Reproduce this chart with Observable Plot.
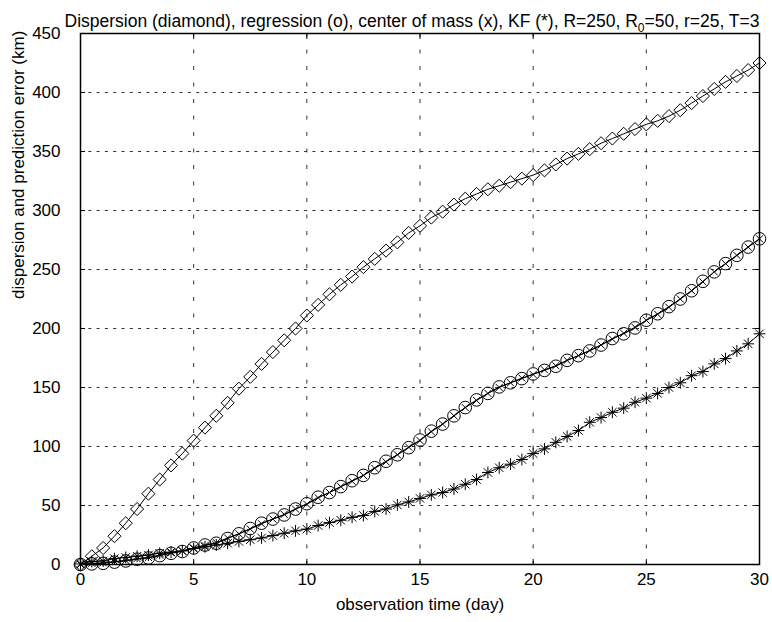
<!DOCTYPE html>
<html>
<head>
<meta charset="utf-8">
<script src="https://cdn.jsdelivr.net/npm/d3@7"></script>
<script src="https://cdn.jsdelivr.net/npm/@observablehq/plot@0.6"></script>
<style>
  html, body { margin: 0; padding: 0; background: #fff; }
</style>
</head>
<body>
<div id="chart"></div>
<script>
const titleText = "Dispersion (diamond), regression (o), center of mass (x), KF (*), R=250, R0=50, r=25, T=3";
const xLabel = "observation time (day)";
const yLabel = "dispersion and prediction error (km)";
const xTicks = [0, 5, 10, 15, 20, 25, 30];
const yTicks = [0, 50, 100, 150, 200, 250, 300, 350, 400, 450];

const time = [0, 0.5, 1, 1.5, 2, 2.5, 3, 3.5, 4, 4.5, 5, 5.5, 6, 6.5, 7, 7.5, 8, 8.5, 9, 9.5,
  10, 10.5, 11, 11.5, 12, 12.5, 13, 13.5, 14, 14.5, 15, 15.5, 16, 16.5, 17, 17.5, 18, 18.5, 19, 19.5,
  20, 20.5, 21, 21.5, 22, 22.5, 23, 23.5, 24, 24.5, 25, 25.5, 26, 26.5, 27, 27.5, 28, 28.5, 29, 29.5, 30];

const dispersion = [0, 7, 14, 24, 35, 47, 60, 72, 84, 94, 105, 116, 126, 137, 149, 159, 170, 180, 190, 200,
  211, 220, 229, 237, 244, 252, 259, 266, 273, 281, 287, 294, 299, 305, 310, 314, 318, 321, 324, 327,
  330, 334, 339, 344, 348, 352, 357, 361, 365, 369, 373, 376, 380, 385, 391, 397, 403, 409, 414, 419, 425];

const regression = [0, 0.5, 1, 2, 3, 4.5, 5.5, 7.5, 9.5, 11, 14, 16.5, 18, 22, 26, 30.5, 35, 38.5, 42, 47,
  51.5, 57, 61, 66, 71, 75.5, 82, 87.5, 93, 99, 105.5, 113, 119, 126, 133, 139.5, 145, 150.5, 154, 157.5,
  161.5, 164.5, 168, 173, 177, 181, 186, 191.5, 195.5, 200.5, 207, 212.5, 218.5, 225, 232, 240, 248, 255, 262, 269, 276];

const centerMass = [0, 1, 1.5, 2.5, 3.5, 5, 6, 8, 10, 11.5, 14, 16, 18.5, 22.5, 26, 30, 34.5, 38.5, 42.5, 47,
  51, 56.5, 61, 66, 70.5, 75.5, 81.5, 87, 93, 99.5, 105, 112.5, 119, 126, 133, 139, 145, 150, 154, 158,
  161, 165, 168.5, 173, 177, 181.5, 186, 191, 196, 201, 207, 212, 218, 225, 232, 239.5, 248, 255, 262, 269, 276];

const kalman = [0.5, 2.5, 3, 5, 6, 7, 8, 9.5, 10.5, 11.5, 13.5, 15, 16.5, 18, 19.5, 21, 22.5, 24.5, 26.5, 28.5,
  30, 33, 35.5, 37.5, 40, 41.5, 45, 47, 50.5, 53, 56, 59, 61, 64, 68, 72, 78, 82, 85, 89,
  94, 98, 103.5, 108.5, 113.5, 120.5, 124.5, 129, 132.5, 137.5, 141, 145, 150, 154, 160, 163.5, 170, 174.5, 181, 187, 195.5];

const series = (vals) => time.map((t, i) => ({t, v: vals[i]}));
const dDisp = series(dispersion);
const dReg = series(regression);
const dCom = series(centerMass);
const dKF = series(kalman);

const lineOpts = {x: "t", y: "v", stroke: "black", strokeWidth: 1};

const plot = Plot.plot({
  width: 772,
  height: 622,
  marginLeft: 80,
  marginRight: 13,
  marginTop: 33,
  marginBottom: 58,
  style: {fontFamily: "'Liberation Sans', Arial, sans-serif", fontSize: "17px", background: "white", color: "black"},
  x: {domain: [0, 30]},
  y: {domain: [0, 450]},
  marks: [
    Plot.gridY(yTicks, {stroke: "#333", strokeOpacity: 1, strokeWidth: 1, strokeDasharray: "3,5.3"}),
    Plot.gridX(xTicks, {stroke: "#333", strokeOpacity: 1, strokeWidth: 1, strokeDasharray: "4,12.5"}),
    Plot.axisX(xTicks, {anchor: "bottom", tickSize: -5, tickPadding: 13, label: null, fontSize: 17}),
    Plot.axisX(xTicks, {anchor: "top", tickSize: -5, tickFormat: () => "", label: null}),
    Plot.axisY(yTicks, {anchor: "left", tickSize: -5, tickPadding: 25, label: null, fontSize: 17}),
    Plot.axisY(yTicks, {anchor: "right", tickSize: -5, tickFormat: () => "", label: null}),
    Plot.line(dDisp, lineOpts),
    Plot.line(dReg, lineOpts),
    Plot.line(dCom, lineOpts),
    Plot.line(dKF, lineOpts),
    Plot.dot(dDisp, {x: "t", y: "v", symbol: "diamond2", r: 5.9, fill: "none", stroke: "black", strokeWidth: 1}),
    Plot.dot(dReg, {x: "t", y: "v", symbol: "circle", r: 6.3, fill: "none", stroke: "black", strokeWidth: 1}),
    Plot.dot(dCom, {x: "t", y: "v", symbol: "times", r: 3.3, fill: "none", stroke: "black", strokeWidth: 1}),
    Plot.dot(dKF, {x: "t", y: "v", symbol: "plus", r: 3.9, fill: "none", stroke: "black", strokeWidth: 1}),
    Plot.dot(dKF, {x: "t", y: "v", symbol: "times", r: 3.9, fill: "none", stroke: "black", strokeWidth: 1}),
    Plot.frame({stroke: "black", strokeWidth: 1.5}),
    Plot.text([titleText], {frameAnchor: "top", dy: -19, dx: -8, fontSize: 17.5, fill: "black"}),
    Plot.text([xLabel], {frameAnchor: "bottom", dy: 45, fontSize: 17, fill: "black"}),
    Plot.text([yLabel], {frameAnchor: "left", dx: -62, rotate: -90, fontSize: 17, fill: "black"})
  ]
});

document.getElementById("chart").appendChild(plot);

// Render the subscript in "R0" as a real subscript tspan
d3.select(plot).selectAll("text").each(function() {
  const el = d3.select(this);
  const s = this.textContent;
  if (s === titleText) {
    const idx = s.indexOf("R0=");
    const before = s.slice(0, idx + 1);
    const after = s.slice(idx + 2);
    el.text(null);
    el.append("tspan").text(before);
    el.append("tspan").attr("dy", "5").attr("font-size", "12").text("0");
    el.append("tspan").attr("dy", "-5").text(after);
  }
});
</script>
</body>
</html>
